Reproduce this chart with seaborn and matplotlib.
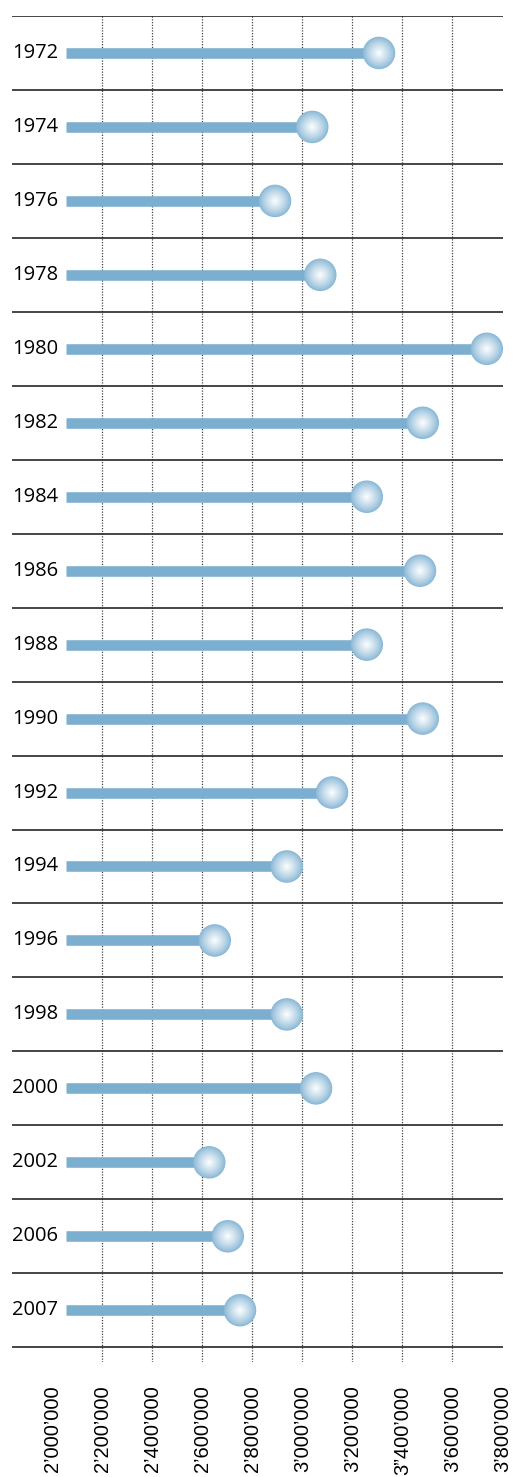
import numpy as np
import pandas as pd
import matplotlib.pyplot as plt
import matplotlib.transforms as mtransforms
from matplotlib.colors import to_rgb
import seaborn as sns

# 数据
years = ['1972', '1974', '1976', '1978', '1980', '1982', '1984', '1986', '1988',
         '1990', '1992', '1994', '1996', '1998', '2000', '2002', '2006', '2007']
values = [3306000, 3039000, 2890000, 3071000, 3737000, 3481000, 3257000, 3470000, 3257000,
          3481000, 3118000, 2937000, 2649000, 2937000, 3054000, 2627000, 2701000, 2750000]
tick_values = [2000000, 2200000, 2400000, 2600000, 2800000, 3000000,
               3200000, 3400000, 3600000, 3800000]
tick_labels = ['2’000’000', '2’200’000', '2’400’000', '2’600’000', '2’800’000',
               '3’000’000', '3’200’000', '3”400’000', '3’600’000', '3’800’000']

bar_start = 2054000
bar_color = '#7baecf'

sns.set_theme(style='white')
plt.rcParams['font.family'] = ['Open Sans', 'DejaVu Sans']

df = pd.DataFrame({'year': years, 'value': values})
df['pos'] = np.arange(len(df))

fig = plt.figure(figsize=(5.15, 14.77), dpi=100)
ax = fig.add_axes([12 / 515, 1 - 1362 / 1477, 491 / 515, 1346 / 1477])

# 行分隔线
for i in range(len(df) + 1):
    ax.axhline(i - 0.5, color='#262626', linewidth=1.2, zorder=2)

# 虚线网格
ax.vlines(tick_values[1:-1], -0.5, len(df) - 0.3, colors='#444444',
          linestyles=(0, (1, 1.2)), linewidth=0.9, zorder=1)

# 棒
ax.hlines(df['pos'], bar_start, df['value'], color=bar_color, linewidth=7.6, zorder=3)

# 球形标记（渐变）
edge = np.array(to_rgb('#88b7d6'))
white = np.array([1.0, 1.0, 1.0])
n_layers = 30
for k in range(n_layers):
    t = k / n_layers
    diam = 23.4 * (1 - t)
    c = edge + (white - edge) * (t ** 0.85)
    sns.scatterplot(data=df, x='value', y='pos', s=diam ** 2, color=tuple(c),
                    edgecolor='none', linewidth=0, ax=ax, zorder=4 + k, legend=False)

# 年份标签
trans = mtransforms.blended_transform_factory(ax.transAxes, ax.transData)
for _, row in df.iterrows():
    ax.text(0, row['pos'], row['year'], transform=trans, ha='left', va='center',
            fontsize=14.5, color='#000000', zorder=10)

ax.set_xlim(1838000, 3802000)
ax.set_ylim(len(df) - 0.3, -0.5)
ax.set_xticks(tick_values)
ax.set_xticklabels(tick_labels, rotation=90, fontsize=14.5, color='#000000',
                   family=['Liberation Sans', 'DejaVu Sans'], va='top', ha='center')
ax.tick_params(axis='x', length=0, pad=17)
ax.set_yticks([])
ax.set_xlabel('')
ax.set_ylabel('')
for s in ax.spines.values():
    s.set_visible(False)

fig.savefig('out.png', dpi=100)
